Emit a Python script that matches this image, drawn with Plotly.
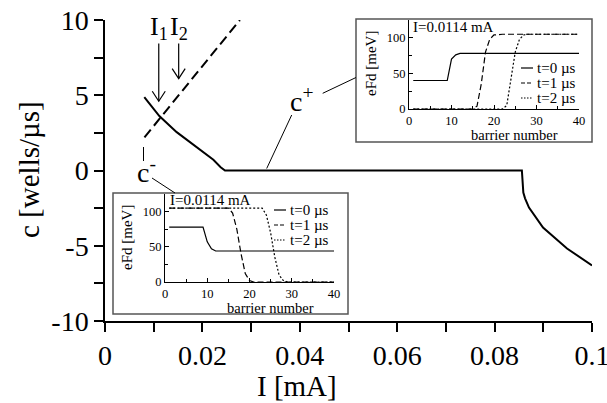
import plotly.graph_objects as go

# ---- main panel: front velocity c versus current I ----
I_cplus = [0.00807, 0.01116, 0.01472, 0.01883, 0.02225, 0.02375, 0.02464,
           0.0856, 0.08573, 0.0859, 0.08625, 0.08706, 0.08994, 0.09487, 0.1]
c_plus = [4.87, 3.62, 2.55, 1.55, 0.71, 0.22, 0.0,
          0.0, -0.66, -1.46, -1.85, -2.46, -3.79, -5.18, -6.31]
I_cminus = [0.0081, 0.0277]
c_minus = [2.2, 10.0]

# currents marked with arrows (I1, I2) and the arrow tip heights
I_marks = [0.01104, 0.01513]
c_tips = [4.6, 6.1]
mark_labels = ["I<sub>1</sub>", "I<sub>2</sub>"]

x_ticks = [0, 0.02, 0.04, 0.06, 0.08, 0.1]
x_ticktext = ["0", "0.02", "0.04", "0.06", "0.08", "0.1"]
y_ticks = [-10, -5, 0, 5, 10]
y_ticktext = ["-10", "-5", "0", "5", "10"]

# ---- insets: field profile eFd along the barriers, I = 0.0114 mA ----
barrier = list(range(1, 41))
# front c+ (upper inset)
up_t0 = [40] * 9 + [70, 76] + [78] * 29
up_t1 = [0] * 15 + [4, 35, 80, 98, 104] + [105] * 20
up_t2 = [0] * 22 + [5, 40, 80, 98, 104] + [105] * 13
# front c- (lower inset)
lo_t0 = [78] * 9 + [57, 47] + [44] * 29
lo_t1 = [105] * 15 + [98, 75, 40, 12, 2] + [0] * 20
lo_t2 = [105] * 23 + [95, 70, 35, 10, 2] + [0] * 12
time_labels = ["t=0 µs", "t=1 µs", "t=2 µs"]
inset_ticks_x = [0, 10, 20, 30, 40]
inset_ticks_y = [0, 50, 100]

FONT = "Liberation Serif, Times New Roman, serif"

# main plot area in pixels
L, R, T, B = 105, 592, 20, 321
W, H = 607, 403


def px(x):
    return (x - L) / (R - L)


def py(y):
    return (B - y) / (B - T)


def label(xp, yp, text, size, **kw):
    """Text placed at a pixel position of the page."""
    d = dict(x=px(xp), y=py(yp), xref="paper", yref="paper", text=text,
             showarrow=False, xanchor="center", yanchor="middle",
             font=dict(family=FONT, size=size, color="black"))
    d.update(kw)
    return d


fig = go.Figure()

fig.add_trace(go.Scatter(x=I_cplus, y=c_plus, mode="lines",
                         line=dict(color="black", width=2), xaxis="x", yaxis="y"))
fig.add_trace(go.Scatter(x=I_cminus, y=c_minus, mode="lines",
                         line=dict(color="black", width=2, dash="10px,5px"),
                         xaxis="x", yaxis="y"))

dashes = ["solid", "6px,3px", "2px,2px"]
for prof, d in zip([up_t0, up_t1, up_t2], dashes):
    fig.add_trace(go.Scatter(x=barrier, y=prof, mode="lines",
                             line=dict(color="black", width=1.2, dash=d),
                             xaxis="x2", yaxis="y2"))
for prof, d in zip([lo_t0, lo_t1, lo_t2], dashes):
    fig.add_trace(go.Scatter(x=barrier, y=prof, mode="lines",
                             line=dict(color="black", width=1.2, dash=d),
                             xaxis="x3", yaxis="y3"))

shapes = []
annotations = []

# inset frames
for (x0, y0, x1, y1) in [(356, 19, 592, 142), (113, 193, 348, 314)]:
    shapes.append(dict(type="rect", xref="paper", yref="paper",
                       x0=px(x0), x1=px(x1), y0=py(y1), y1=py(y0),
                       line=dict(color="#555555", width=1.5),
                       fillcolor="white", layer="below"))

# arrows marking I1 and I2
c_per_px = 20.0 / (B - T)
I_per_px = 0.1 / (R - L)
shaft_top = (170 - 43) * c_per_px
for Im, ct, lab in zip(I_marks, c_tips, mark_labels):
    shapes.append(dict(type="line", xref="x", yref="y", x0=Im, x1=Im,
                       y0=shaft_top, y1=ct, line=dict(color="black", width=1.2)))
    hw, hh = 6.5 * I_per_px, 10 * c_per_px
    shapes.append(dict(type="path", xref="x", yref="y",
                       path=f"M{Im - hw},{ct + hh} L{Im},{ct} L{Im + hw},{ct + hh}",
                       line=dict(color="black", width=1.2)))
    annotations.append(dict(x=Im, y=shaft_top, xref="x", yref="y", text=lab,
                            showarrow=False, xanchor="center", yanchor="bottom",
                            yshift=-2,
                            font=dict(family=FONT, size=26, color="black")))

# leader lines for the c+ / c- labels (pixel positions)
leaders = [(143.5, 147, 143.5, 161), (152, 178, 175, 193),
           (291.7, 115, 266.7, 168.5), (322.7, 93.3, 356, 77.5)]
for (x0, y0, x1, y1) in leaders:
    shapes.append(dict(type="line", xref="paper", yref="paper",
                       x0=px(x0), y0=py(y0), x1=px(x1), y1=py(y1),
                       line=dict(color="black", width=1)))

annotations.append(label(302, 100, "c<sup>+</sup>", 28))
annotations.append(label(146, 170, "c<sup>-</sup>", 28))

# axis titles of the main panel
annotations.append(label(297, 386, "I [mA]", 29))
annotations.append(label(29, 170, "c [wells/µs]", 29, textangle=-90))

# inset texts and legends
for (title_x, title_y, ylab_x, ylab_y, bx_c, bx_y, leg_x, leg_y0) in [
        (411, 27, 371, 64, 514, 135, 521, 68),
        (168, 200, 127, 238, 270, 308, 274, 210)]:
    annotations.append(label(title_x, title_y, "I=0.0114 mA", 15, xanchor="left"))
    annotations.append(label(ylab_x, ylab_y, "eFd [meV]", 15, textangle=-90))
    annotations.append(label(bx_c, bx_y, "barrier number", 14.5))
    for k, (lab, d) in enumerate(zip(time_labels, ["solid", "4px,2px", "1.5px,1.5px"])):
        yy = leg_y0 + 15 * k
        shapes.append(dict(type="line", xref="paper", yref="paper",
                           x0=px(leg_x), x1=px(leg_x + 12), y0=py(yy), y1=py(yy),
                           line=dict(color="black", width=1.2, dash=d)))
        annotations.append(label(leg_x + 14, yy, lab, 15, xanchor="left"))

main_axis = dict(showline=True, linecolor="black", linewidth=1.5, ticks="outside",
                 ticklen=9, tickwidth=1.5, tickcolor="black", showgrid=False,
                 zeroline=False, automargin=False, ticklabeloverflow="allow",
                 tickfont=dict(family=FONT, size=28, color="black"))
inset_axis = dict(showline=True, linecolor="black", linewidth=1.2, ticks="inside",
                  ticklen=4, tickwidth=1, tickcolor="black", showgrid=False,
                  zeroline=False, automargin=False, ticklabeloverflow="allow",
                  tickfont=dict(family=FONT, size=12.5, color="black"))

fig.update_layout(
    width=W, height=H,
    margin=dict(l=L, r=W - R, t=T, b=H - B, autoexpand=False),
    paper_bgcolor="white", plot_bgcolor="white",
    showlegend=False,
    xaxis=dict(main_axis, range=[0, 0.1], domain=[0, 1], anchor="y",
               tickvals=x_ticks, ticktext=x_ticktext,
               minor=dict(tickmode="linear", tick0=0, dtick=0.01, ticks="outside",
                          ticklen=9, tickwidth=1.5, tickcolor="black")),
    yaxis=dict(main_axis, range=[-10, 10], domain=[0, 1], anchor="x",
               tickvals=y_ticks, ticktext=y_ticktext,
               minor=dict(tickmode="linear", tick0=0, dtick=2.5, ticks="outside",
                          ticklen=9, tickwidth=1.5, tickcolor="black")),
    xaxis2=dict(inset_axis, range=[0, 40], domain=[px(409), px(579)], anchor="y2",
                tickvals=inset_ticks_x,
                minor=dict(tickmode="linear", tick0=0, dtick=5, ticks="inside",
                           ticklen=3, tickcolor="black")),
    yaxis2=dict(inset_axis, range=[0, 125], domain=[py(109), py(20)], anchor="x2",
                tickvals=inset_ticks_y,
                minor=dict(tickmode="linear", tick0=0, dtick=25, ticks="inside",
                           ticklen=3, tickcolor="black")),
    xaxis3=dict(inset_axis, range=[0, 40], domain=[px(165), px(334)], anchor="y3",
                tickvals=inset_ticks_x,
                minor=dict(tickmode="linear", tick0=0, dtick=5, ticks="inside",
                           ticklen=3, tickcolor="black")),
    yaxis3=dict(inset_axis, range=[0, 125], domain=[py(282), py(194)], anchor="x3",
                tickvals=inset_ticks_y,
                minor=dict(tickmode="linear", tick0=0, dtick=25, ticks="inside",
                           ticklen=3, tickcolor="black")),
    shapes=shapes,
    annotations=annotations,
)

fig.write_html("out.html")
